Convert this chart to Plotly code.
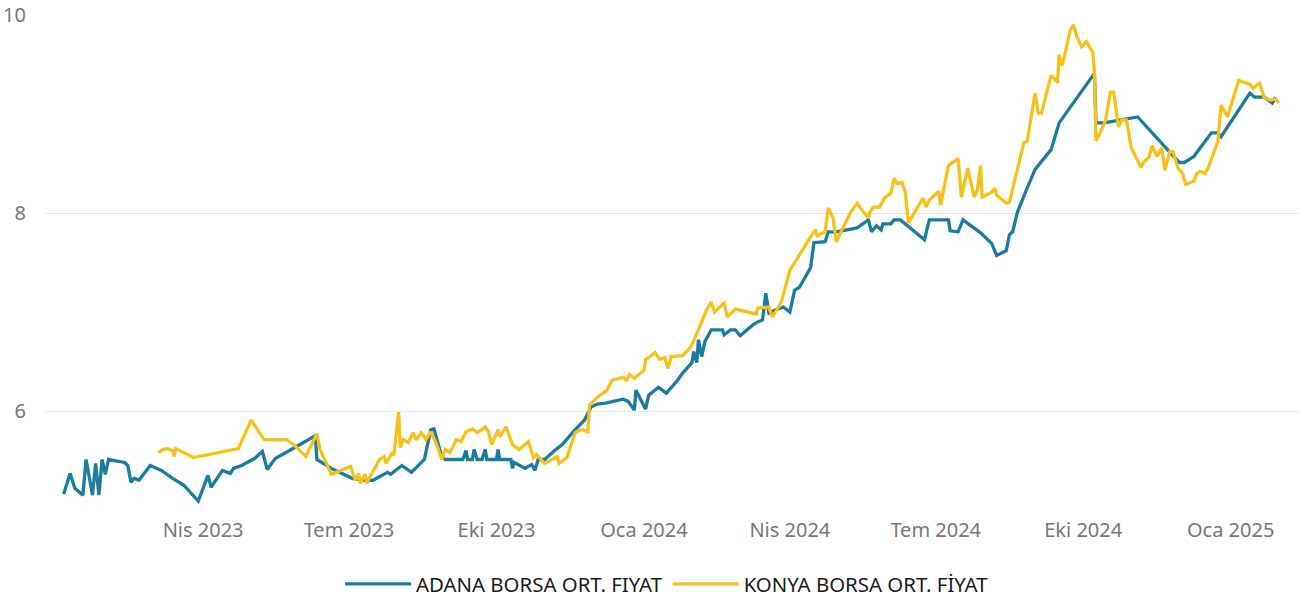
import plotly.graph_objects as go

# ADANA borsa ortalama fiyat (TL/kg)
adana_dates = [
    "2023-01-04", "2023-01-08", "2023-01-11", "2023-01-16", "2023-01-18", "2023-01-22",
    "2023-01-24", "2023-01-26", "2023-01-28", "2023-01-30", "2023-02-01", "2023-02-11",
    "2023-02-13", "2023-02-15", "2023-02-17", "2023-02-20", "2023-02-27", "2023-03-06",
    "2023-03-13", "2023-03-20", "2023-03-29", "2023-04-04", "2023-04-06", "2023-04-11",
    "2023-04-13", "2023-04-18", "2023-04-20", "2023-04-25", "2023-05-03", "2023-05-08",
    "2023-05-11", "2023-05-16", "2023-06-08", "2023-06-10", "2023-06-11", "2023-06-20",
    "2023-07-03", "2023-07-11", "2023-07-16", "2023-07-25", "2023-07-27", "2023-07-31",
    "2023-08-03", "2023-08-09", "2023-08-17", "2023-08-21", "2023-08-23", "2023-08-28",
    "2023-08-30", "2023-09-10", "2023-09-12", "2023-09-13", "2023-09-16", "2023-09-17",
    "2023-09-19", "2023-09-22", "2023-09-24", "2023-09-25", "2023-10-01", "2023-10-02",
    "2023-10-03", "2023-10-10", "2023-10-11", "2023-10-12", "2023-10-19", "2023-10-23",
    "2023-10-25", "2023-10-27", "2023-10-31", "2023-11-07", "2023-11-11", "2023-11-19",
    "2023-11-25", "2023-11-29", "2023-12-03", "2023-12-08", "2023-12-19", "2023-12-22",
    "2023-12-26", "2023-12-27", "2024-01-02", "2024-01-04", "2024-01-10", "2024-01-15",
    "2024-01-22", "2024-01-25", "2024-01-31", "2024-02-01", "2024-02-03", "2024-02-04",
    "2024-02-06", "2024-02-08", "2024-02-12", "2024-02-19", "2024-02-20", "2024-02-24",
    "2024-02-27", "2024-03-01", "2024-03-09", "2024-03-12", "2024-03-15", "2024-03-17",
    "2024-03-19", "2024-03-23", "2024-03-28", "2024-04-01", "2024-04-04", "2024-04-07",
    "2024-04-14", "2024-04-16", "2024-04-23", "2024-04-25", "2024-04-30", "2024-05-13",
    "2024-05-20", "2024-05-22", "2024-05-25", "2024-05-28", "2024-05-29", "2024-06-03",
    "2024-06-05", "2024-06-09", "2024-06-24", "2024-06-27", "2024-07-09", "2024-07-10",
    "2024-07-15", "2024-07-18", "2024-07-29", "2024-08-05", "2024-08-08", "2024-08-14",
    "2024-08-16", "2024-08-18", "2024-08-21", "2024-08-27", "2024-09-01", "2024-09-11",
    "2024-09-16", "2024-10-08", "2024-10-09", "2024-10-14", "2024-11-04", "2024-11-30",
    "2024-12-03", "2024-12-09", "2024-12-20", "2024-12-24", "2024-12-26", "2025-01-13",
    "2025-01-16", "2025-01-22", "2025-01-27", "2025-01-29",
]
adana_price = [
    5.16, 5.37, 5.22, 5.15, 5.51, 5.15,
    5.47, 5.15, 5.51, 5.36, 5.51, 5.48,
    5.45, 5.28, 5.32, 5.30, 5.45, 5.40,
    5.32, 5.25, 5.09, 5.35, 5.23, 5.35,
    5.40, 5.37, 5.42, 5.45, 5.52, 5.59,
    5.41, 5.52, 5.73, 5.75, 5.51, 5.42,
    5.32, 5.30, 5.30, 5.38, 5.36, 5.41,
    5.45, 5.38, 5.51, 5.81, 5.82, 5.53,
    5.51, 5.51, 5.60, 5.51, 5.51, 5.61,
    5.51, 5.51, 5.61, 5.51, 5.51, 5.61,
    5.51, 5.51, 5.42, 5.48, 5.42, 5.46,
    5.40, 5.51, 5.51, 5.61, 5.66, 5.81,
    5.91, 6.04, 6.07, 6.08, 6.12, 6.10,
    6.01, 6.21, 6.02, 6.16, 6.24, 6.18,
    6.31, 6.38, 6.49, 6.60, 6.49, 6.72,
    6.55, 6.70, 6.82, 6.82, 6.77, 6.82,
    6.82, 6.76, 6.87, 6.90, 6.92, 7.19,
    6.99, 7.02, 7.05, 7.00, 7.22, 7.25,
    7.45, 7.70, 7.71, 7.81, 7.81, 7.85,
    7.93, 7.81, 7.87, 7.83, 7.89, 7.89,
    7.93, 7.93, 7.73, 7.93, 7.93, 7.82,
    7.81, 7.93, 7.80, 7.69, 7.57, 7.62,
    7.78, 7.81, 8.01, 8.25, 8.44, 8.64,
    8.91, 9.41, 8.91, 8.91, 8.97, 8.51,
    8.51, 8.57, 8.81, 8.81, 8.77, 9.21,
    9.17, 9.17, 9.11, 9.17,
]

# KONYA borsa ortalama fiyat (TL/kg)
konya_dates = [
    "2023-03-04", "2023-03-07", "2023-03-10", "2023-03-13", "2023-03-14", "2023-03-15",
    "2023-03-26", "2023-04-23", "2023-05-01", "2023-05-09", "2023-05-23", "2023-05-29",
    "2023-06-04", "2023-06-11", "2023-06-13", "2023-06-20", "2023-07-02", "2023-07-05",
    "2023-07-07", "2023-07-08", "2023-07-11", "2023-07-12", "2023-07-20", "2023-07-23",
    "2023-07-24", "2023-07-28", "2023-07-29", "2023-08-01", "2023-08-02", "2023-08-04",
    "2023-08-07", "2023-08-10", "2023-08-12", "2023-08-15", "2023-08-18", "2023-08-21",
    "2023-08-24", "2023-08-28", "2023-08-30", "2023-09-02", "2023-09-06", "2023-09-09",
    "2023-09-12", "2023-09-16", "2023-09-19", "2023-09-24", "2023-09-26", "2023-09-28",
    "2023-10-02", "2023-10-03", "2023-10-07", "2023-10-11", "2023-10-15", "2023-10-21",
    "2023-10-24", "2023-10-26", "2023-10-31", "2023-11-08", "2023-11-09", "2023-11-14",
    "2023-11-19", "2023-11-22", "2023-11-24", "2023-11-27", "2023-11-28", "2023-12-03",
    "2023-12-09", "2023-12-12", "2023-12-19", "2023-12-21", "2023-12-23", "2023-12-26",
    "2024-01-01", "2024-01-02", "2024-01-04", "2024-01-08", "2024-01-11", "2024-01-14",
    "2024-01-16", "2024-01-18", "2024-01-25", "2024-01-30", "2024-02-04", "2024-02-09",
    "2024-02-12", "2024-02-14", "2024-02-20", "2024-02-22", "2024-02-27", "2024-03-11",
    "2024-03-12", "2024-03-19", "2024-03-21", "2024-03-25", "2024-03-27", "2024-04-01",
    "2024-04-14", "2024-04-17", "2024-04-18", "2024-04-23", "2024-04-25", "2024-04-28",
    "2024-04-30", "2024-05-09", "2024-05-13", "2024-05-15", "2024-05-20", "2024-05-21",
    "2024-05-23", "2024-05-27", "2024-05-30", "2024-06-03", "2024-06-05", "2024-06-07",
    "2024-06-10", "2024-06-12", "2024-06-14", "2024-06-23", "2024-06-25", "2024-06-27",
    "2024-07-03", "2024-07-04", "2024-07-09", "2024-07-15", "2024-07-17", "2024-07-21",
    "2024-07-25", "2024-07-27", "2024-07-29", "2024-07-30", "2024-08-05", "2024-08-07",
    "2024-08-08", "2024-08-14", "2024-08-16", "2024-08-25", "2024-08-27", "2024-09-01",
    "2024-09-03", "2024-09-05", "2024-09-11", "2024-09-15", "2024-09-16", "2024-09-18",
    "2024-09-23", "2024-09-25", "2024-09-27", "2024-09-30", "2024-10-03", "2024-10-05",
    "2024-10-07", "2024-10-08", "2024-10-09", "2024-10-11", "2024-10-15", "2024-10-18",
    "2024-10-20", "2024-10-21", "2024-10-23", "2024-10-25", "2024-10-28", "2024-10-31",
    "2024-11-06", "2024-11-08", "2024-11-11", "2024-11-13", "2024-11-16", "2024-11-19",
    "2024-11-21", "2024-11-24", "2024-11-26", "2024-11-29", "2024-12-02", "2024-12-04",
    "2024-12-09", "2024-12-11", "2024-12-13", "2024-12-16", "2024-12-18", "2024-12-24",
    "2024-12-26", "2024-12-30", "2025-01-06", "2025-01-09", "2025-01-13", "2025-01-15",
    "2025-01-19", "2025-01-22", "2025-01-26", "2025-01-29", "2025-01-31",
]
konya_price = [
    5.58, 5.61, 5.62, 5.60, 5.54, 5.62,
    5.53, 5.62, 5.91, 5.71, 5.71, 5.64,
    5.54, 5.77, 5.61, 5.36, 5.44, 5.30,
    5.37, 5.27, 5.36, 5.27, 5.51, 5.54,
    5.47, 5.58, 5.55, 5.99, 5.63, 5.71,
    5.68, 5.78, 5.71, 5.78, 5.71, 5.79,
    5.69, 5.51, 5.61, 5.58, 5.71, 5.69,
    5.79, 5.82, 5.78, 5.84, 5.79, 5.66,
    5.81, 5.74, 5.84, 5.66, 5.61, 5.69,
    5.53, 5.56, 5.47, 5.54, 5.47, 5.53,
    5.78, 5.81, 5.81, 5.79, 6.06, 6.14,
    6.21, 6.31, 6.34, 6.31, 6.37, 6.33,
    6.41, 6.52, 6.54, 6.59, 6.52, 6.54,
    6.43, 6.55, 6.56, 6.64, 6.82, 7.02,
    7.10, 7.00, 7.09, 6.95, 7.03, 6.98,
    7.04, 7.05, 6.95, 7.05, 7.12, 7.42,
    7.76, 7.83, 7.77, 7.81, 8.05, 7.95,
    7.71, 8.01, 8.10, 8.05, 7.95, 8.01,
    8.06, 8.06, 8.15, 8.20, 8.35, 8.30,
    8.31, 8.21, 7.90, 8.15, 8.06, 8.13,
    8.22, 8.08, 8.48, 8.55, 8.16, 8.45,
    8.16, 8.23, 8.48, 8.16, 8.21, 8.25,
    8.18, 8.10, 8.11, 8.71, 8.72, 9.21,
    9.01, 9.01, 9.39, 9.32, 9.60, 9.49,
    9.85, 9.90, 9.78, 9.68, 9.73, 9.68,
    9.62, 9.42, 8.73, 8.79, 8.94, 9.22,
    9.22, 9.11, 8.87, 8.94, 8.94, 8.66,
    8.46, 8.52, 8.56, 8.68, 8.57, 8.66,
    8.43, 8.62, 8.62, 8.46, 8.40, 8.29,
    8.32, 8.40, 8.42, 8.40, 8.46, 8.72,
    9.09, 8.97, 9.34, 9.32, 9.30, 9.26,
    9.31, 9.16, 9.14, 9.15, 9.11,
]

# Quarterly tick marks with Turkish month abbreviations
tick_dates = ["2023-04-01", "2023-07-01", "2023-10-01", "2024-01-01",
              "2024-04-01", "2024-07-01", "2024-10-01", "2025-01-01"]
tick_labels = ["Nis 2023", "Tem 2023", "Eki 2023", "Oca 2024",
               "Nis 2024", "Tem 2024", "Eki 2024", "Oca 2025"]
y_ticks = [6, 8, 10]

BLUE = "#1A7DA0"
YELLOW = "#F5C11A"
FONT = "Segoe UI, Noto Sans, Open Sans, sans-serif"

fig = go.Figure()
fig.add_trace(go.Scatter(
    x=adana_dates, y=adana_price, mode="lines",
    name="ADANA BORSA ORT. FIYAT",
    line=dict(color=BLUE, width=3.3),
))
fig.add_trace(go.Scatter(
    x=konya_dates, y=konya_price, mode="lines",
    name="KONYA BORSA ORT. FİYAT",
    line=dict(color=YELLOW, width=3.3),
))

fig.update_layout(
    width=1313, height=599,
    margin=dict(l=46, r=15, t=15, b=89),
    paper_bgcolor="white", plot_bgcolor="white",
    font=dict(family=FONT, size=20, color="#777777"),
    showlegend=True,
    legend=dict(
        orientation="h", x=0.496, xanchor="center",
        yref="container", y=0.025, yanchor="middle",
        font=dict(family=FONT, size=20.4, color="#1A1A1A"),
        itemwidth=66, traceorder="normal",
    ),
    xaxis=dict(
        type="date",
        range=["2022-12-24", "2025-02-12"],
        tickmode="array", tickvals=tick_dates, ticktext=tick_labels,
        showgrid=False, zeroline=False, showline=False, ticks="",
        automargin=False,
        ticklabelstandoff=6,
        tickfont=dict(size=20, color="#777777"),
    ),
    yaxis=dict(
        range=[5, 10],
        tickmode="array", tickvals=y_ticks,
        showgrid=True, gridcolor="#E6E6E6", gridwidth=1,
        zeroline=False, showline=False, ticks="",
        automargin=False,
        ticklabelstandoff=19,
        tickfont=dict(size=20, color="#777777"),
    ),
)

fig.write_html("out.html")
